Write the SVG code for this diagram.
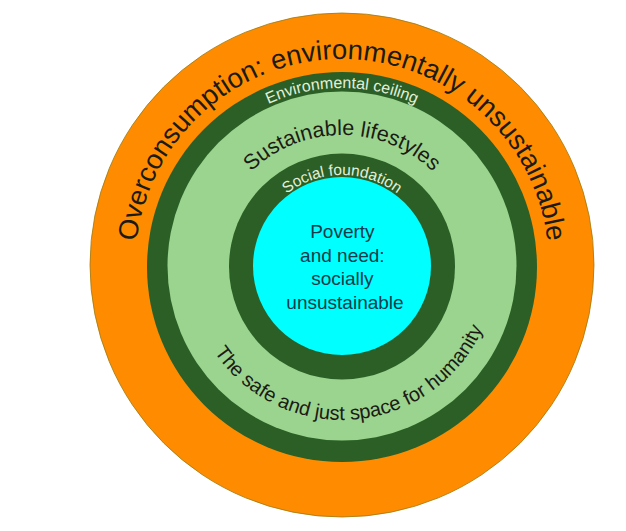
<svg xmlns="http://www.w3.org/2000/svg" xmlns:xlink="http://www.w3.org/1999/xlink" width="626" height="531" viewBox="0 0 626 531">
<style>
  .t { font-family: "Liberation Sans", Arial, Helvetica, sans-serif; }
  .dark { fill: #1b1b14; }
  .light { fill: #e2f0dc; }
  .teal { fill: #103c4a; }
</style>
<defs>
  <path id="pTop" d="M342,473 A207,207 0 0 1 342,59 A207,207 0 0 1 342,473"/>
  <path id="pCeil" d="M342,444 A178,178 0 0 1 342,88 A178,178 0 0 1 342,444"/>
  <path id="pSust" d="M342,397 A131,131 0 0 1 342,135 A131,131 0 0 1 342,397"/>
  <path id="pSoc" d="M342,357 A91,91 0 0 1 342,175 A91,91 0 0 1 342,357"/>
  <path id="pBot" d="M342,112 A154,154 0 0 0 342,420 A154,154 0 0 0 342,112"/>
</defs>
<rect width="626" height="531" fill="#ffffff"/>
<g id="overconsumption">
  <circle cx="342" cy="265" r="252" fill="#ff8c00" stroke="#9c7a12" stroke-width="0.8"/>
  <text class="t dark" font-size="27.5"><textPath xlink:href="#pTop" href="#pTop" startOffset="50%" text-anchor="middle">Overconsumption: environmentally unsustainable</textPath></text>
</g>
<g id="environmental-ceiling">
  <circle cx="342" cy="267" r="195" fill="#2b5f26"/>
  <text class="t light" font-size="16"><textPath xlink:href="#pCeil" href="#pCeil" startOffset="50%" text-anchor="middle">Environmental ceiling</textPath></text>
</g>
<g id="safe-space">
  <circle cx="342" cy="266" r="174.5" fill="#9bd48f"/>
  <text class="t dark" font-size="21.5"><textPath xlink:href="#pSust" href="#pSust" startOffset="50%" text-anchor="middle">Sustainable lifestyles</textPath></text>
  <text class="t dark" font-size="20" transform="rotate(-5 342 266)"><textPath xlink:href="#pBot" href="#pBot" startOffset="50%" text-anchor="middle">The safe and just space for humanity</textPath></text>
</g>
<g id="social-foundation">
  <circle cx="342" cy="266.5" r="113" fill="#2b5f26"/>
  <text class="t light" font-size="15.5"><textPath xlink:href="#pSoc" href="#pSoc" startOffset="50%" text-anchor="middle">Social foundation</textPath></text>
</g>
<g id="poverty">
  <circle cx="342" cy="266" r="89" fill="#00ffff"/>
  <text class="t teal" font-size="19" text-anchor="middle">
    <tspan x="345" y="238">Poverty</tspan>
    <tspan x="345" y="261.5">and need:</tspan>
    <tspan x="345" y="285">socially</tspan>
    <tspan x="345" y="308.5">unsustainable</tspan>
  </text>
</g>
<g id="connectors"/>
</svg>
